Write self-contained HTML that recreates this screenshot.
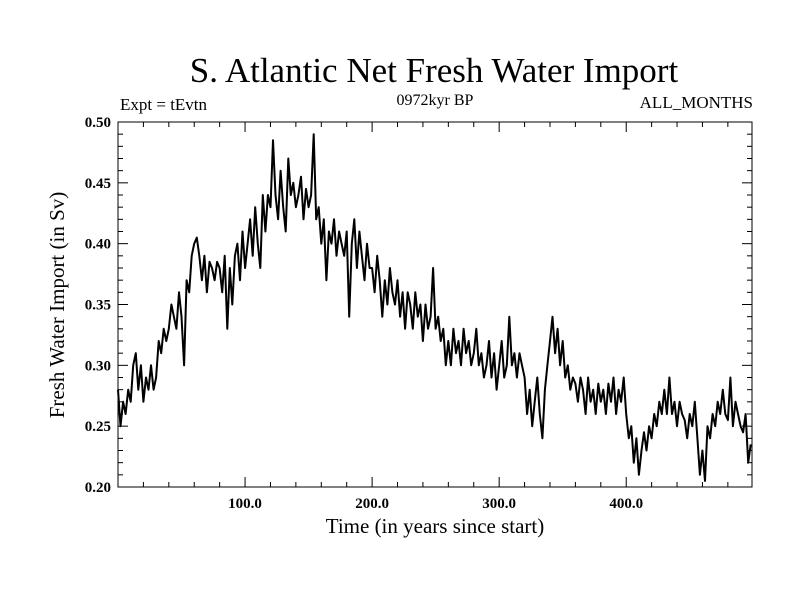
<!DOCTYPE html>
<html><head><meta charset="utf-8"><style>
body{margin:0;background:#fff;}
svg text{font-family:"Liberation Serif",serif;fill:#000;}
</style></head><body>
<svg id="chart" width="800" height="600" xmlns="http://www.w3.org/2000/svg">
<rect width="800" height="600" fill="#fff"/>
<text x="434" y="82" font-size="35" text-anchor="middle">S. Atlantic Net Fresh Water Import</text>
<text x="120" y="110" font-size="17">Expt = tEvtn</text>
<text x="435" y="105" font-size="16" text-anchor="middle">0972kyr BP</text>
<text x="753" y="108" font-size="17" text-anchor="end">ALL_MONTHS</text>
<text x="435" y="533" font-size="21" text-anchor="middle">Time (in years since start)</text>
<text transform="translate(64,305) rotate(-90)" font-size="21" text-anchor="middle">Fresh Water Import (in Sv)</text>
<g id="axes"></g>
<path id="series" fill="none" stroke="#000" stroke-width="2" stroke-linejoin="round"/>
<rect x="118" y="122" width="634" height="365" fill="none" stroke="#000" stroke-width="1"/>
</svg>
<script>
const years0 = 0, yearStep = 2;
const values = [
0.28,0.25,0.27,0.26,0.28,0.27,0.30,0.31,0.28,0.30,
0.27,0.29,0.28,0.30,0.28,0.29,0.32,0.31,0.33,0.32,
0.33,0.35,0.34,0.33,0.36,0.34,0.30,0.37,0.36,0.39,
0.40,0.405,0.39,0.37,0.39,0.36,0.385,0.38,0.37,0.385,
0.38,0.36,0.39,0.33,0.38,0.35,0.39,0.40,0.37,0.41,
0.38,0.40,0.42,0.39,0.43,0.40,0.38,0.44,0.41,0.44,
0.43,0.485,0.44,0.42,0.46,0.43,0.41,0.47,0.44,0.45,
0.43,0.44,0.455,0.42,0.445,0.43,0.44,0.49,0.42,0.43,
0.40,0.42,0.37,0.41,0.40,0.42,0.39,0.41,0.40,0.39,
0.41,0.34,0.40,0.42,0.38,0.41,0.39,0.37,0.40,0.38,
0.38,0.36,0.39,0.37,0.34,0.37,0.35,0.38,0.36,0.35,
0.37,0.34,0.36,0.33,0.36,0.35,0.33,0.36,0.34,0.35,
0.32,0.35,0.33,0.34,0.38,0.33,0.34,0.32,0.33,0.30,
0.32,0.30,0.33,0.31,0.32,0.30,0.33,0.31,0.32,0.30,
0.31,0.33,0.30,0.31,0.29,0.30,0.32,0.29,0.31,0.28,
0.30,0.32,0.29,0.30,0.34,0.30,0.31,0.29,0.31,0.30,
0.29,0.26,0.28,0.25,0.27,0.29,0.26,0.24,0.28,0.30,
0.32,0.34,0.31,0.33,0.30,0.32,0.29,0.30,0.28,0.29,
0.285,0.27,0.29,0.28,0.26,0.29,0.27,0.28,0.26,0.285,
0.27,0.28,0.26,0.285,0.27,0.29,0.26,0.28,0.27,0.29,
0.26,0.24,0.25,0.22,0.24,0.21,0.23,0.245,0.23,0.25,
0.24,0.26,0.25,0.27,0.26,0.28,0.26,0.29,0.26,0.27,
0.25,0.27,0.26,0.255,0.24,0.26,0.25,0.27,0.24,0.21,
0.23,0.205,0.25,0.24,0.26,0.25,0.27,0.26,0.28,0.26,
0.255,0.29,0.25,0.27,0.26,0.25,0.245,0.26,0.22,0.235
];
const xTicks = [100, 200, 300, 400];
const xTickLabels = ["100.0", "200.0", "300.0", "400.0"];
const yTicks = [0.20, 0.25, 0.30, 0.35, 0.40, 0.45, 0.50];
const yTickLabels = ["0.20", "0.25", "0.30", "0.35", "0.40", "0.45", "0.50"];

const X0=118, X1=752, Y0=487, Y1=122, XMIN=0, XMAX=499, YMIN=0.2, YMAX=0.5;
const sx = v => X0 + (v - XMIN) / (XMAX - XMIN) * (X1 - X0);
const sy = v => Y0 - (v - YMIN) / (YMAX - YMIN) * (Y0 - Y1);
const NS = "http://www.w3.org/2000/svg";
const axes = document.getElementById('axes');
function line(x1,y1,x2,y2){const l=document.createElementNS(NS,'line');l.setAttribute('x1',x1);l.setAttribute('y1',y1);l.setAttribute('x2',x2);l.setAttribute('y2',y2);l.setAttribute('stroke','#000');l.setAttribute('stroke-width','1');axes.appendChild(l);return l;}
for(let v=20; v<500; v+=20){
  const x=sx(v), big=(v%100===0)?10:5;
  const a=line(x,Y0,x,Y0-big);
  
  
  const b=line(x,Y1,x,Y1+big);
  
  
}
for(let i=0;i<=30;i++){
  const v=0.2+i*0.01, y=sy(v), big=(i%5===0)?10:5;
  const a=line(X0,y,X0+big,y);
  
  
  const b=line(X1,y,X1-big,y);
  
  
}
xTicks.forEach((v,i)=>{
  const t=document.createElementNS(NS,'text');
  t.setAttribute('x',sx(v));t.setAttribute('y',508);t.setAttribute('font-size','15');t.setAttribute('font-weight','bold');t.setAttribute('text-anchor','middle');
  
  
  t.textContent=xTickLabels[i];axes.appendChild(t);
});
yTicks.forEach((v,i)=>{
  const t=document.createElementNS(NS,'text');
  t.setAttribute('x',111);t.setAttribute('y',sy(v)+5);t.setAttribute('font-size','15');t.setAttribute('font-weight','bold');t.setAttribute('text-anchor','end');
  
  
  t.textContent=yTickLabels[i];axes.appendChild(t);
});
let d='';
values.forEach((v,i)=>{d+=(i?'L':'M')+sx(years0+i*yearStep).toFixed(1)+','+sy(v).toFixed(1);});
document.getElementById('series').setAttribute('d',d);
</script>
</body></html>
